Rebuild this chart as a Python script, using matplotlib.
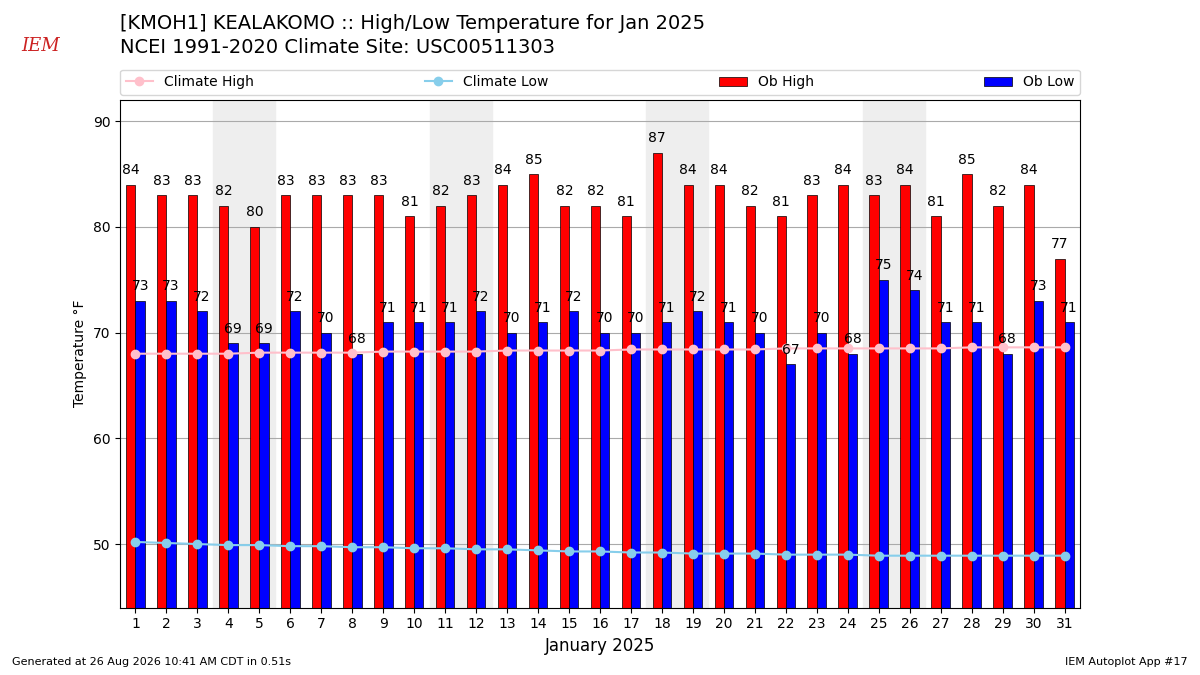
import matplotlib
matplotlib.use("Agg")
import matplotlib.pyplot as plt
import numpy as np

days = list(range(1, 32))
ob_high = [84,83,83,82,80,83,83,83,83,81,82,83,84,85,82,82,81,87,84,84,82,81,83,84,83,84,81,85,82,84,77]
ob_low = [73,73,72,69,69,72,70,68,71,71,71,72,70,71,72,70,70,71,72,71,70,67,70,68,75,74,71,71,68,73,71]
clim_high = [68.0,68.0,68.0,68.0,68.1,68.1,68.1,68.1,68.2,68.2,68.2,68.2,68.3,68.3,68.3,68.3,68.4,68.4,68.4,68.4,68.4,68.5,68.5,68.5,68.5,68.5,68.5,68.6,68.6,68.6,68.6]
clim_low = [50.2,50.1,50.0,49.9,49.9,49.8,49.8,49.7,49.7,49.6,49.6,49.5,49.5,49.4,49.3,49.3,49.2,49.2,49.1,49.1,49.1,49.0,49.0,49.0,48.9,48.9,48.9,48.9,48.9,48.9,48.9]
weekends = [4, 11, 18, 25]

fig = plt.figure(figsize=(12, 6.75), dpi=100)
ax = fig.add_axes([0.1, 0.1, 0.8, 0.752])
x = np.array(days)
for w in weekends:
    ax.axvspan(w - 0.5, w + 1.5, color="#eeeeee", zorder=0)
w = 0.3
bh = ax.bar(x - w/2, ob_high, w, color="red", edgecolor="black", linewidth=0.5, label="Ob High", zorder=2)
bl = ax.bar(x + w/2, ob_low, w, color="blue", edgecolor="black", linewidth=0.5, label="Ob Low", zorder=2)
for xi, v in zip(x, ob_high):
    ax.text(xi - w/2, v + 0.7, f"{v}", ha="center", va="bottom", fontsize=10, zorder=4)
for xi, v in zip(x, ob_low):
    ax.text(xi + w/2, v + 0.7, f"{v}", ha="center", va="bottom", fontsize=10, zorder=4)
lh, = ax.plot(x, clim_high, "-o", color="pink", label="Climate High", zorder=3, markersize=6)
ll, = ax.plot(x, clim_low, "-o", color="skyblue", label="Climate Low", zorder=3, markersize=6)
ax.set_xlim(0.5, 31.5)
ax.set_ylim(44, 92)
ax.set_xticks(days)
ax.set_yticks([50, 60, 70, 80, 90])
ax.grid(axis="y", color="#aaaaaa", linewidth=0.8, zorder=1)
ax.set_axisbelow(True)
ax.set_ylabel("Temperature °F")
ax.set_xlabel("January 2025", fontsize=12)
ax.legend(handles=[lh, ll, bh, bl], loc="lower left", bbox_to_anchor=(0, 1.01, 1, 0.05),
          ncol=4, mode="expand", borderaxespad=0, fontsize=10)
fig.text(0.1, 0.965, "[KMOH1] KEALAKOMO :: High/Low Temperature for Jan 2025", fontsize=14, va="center")
fig.text(0.1, 0.93, "NCEI 1991-2020 Climate Site: USC00511303", fontsize=14, va="center")
fig.text(0.01, 0.015, "Generated at 26 Aug 2026 10:41 AM CDT in 0.51s", fontsize=8)
fig.text(0.99, 0.015, "IEM Autoplot App #17", fontsize=8, ha="right")
fig.text(0.018, 0.925, "IEM", fontsize=13, color="#cc2222", style="italic", family="serif")
fig.savefig("out.png")
